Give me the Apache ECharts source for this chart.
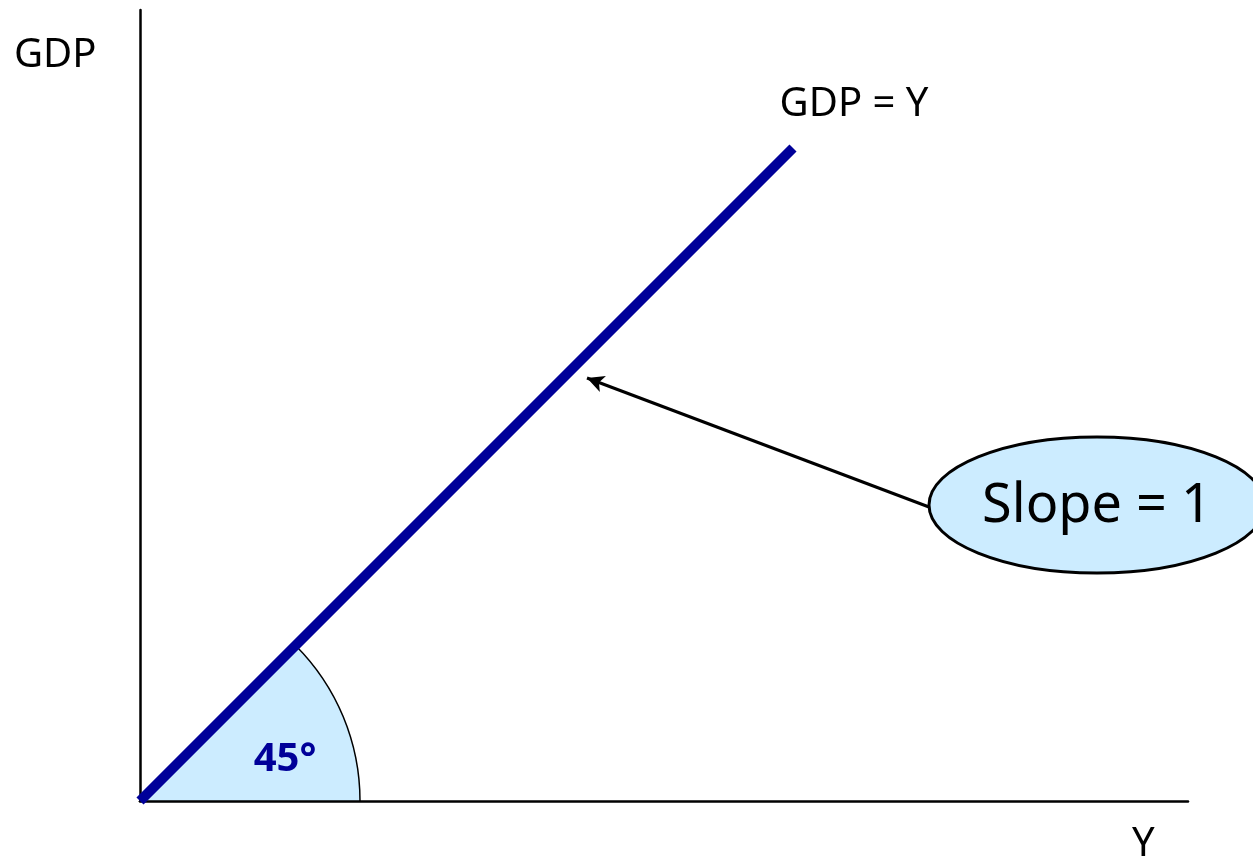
<!DOCTYPE html>
<html>
<head>
<meta charset="UTF-8">
<title>GDP = Y</title>
<style>
html,body{margin:0;padding:0;background:#fff;}
#chart{width:1253px;height:856px;}
</style>
</head>
<body>
<div id="chart"></div>
<script src="https://cdn.jsdelivr.net/npm/echarts@6/dist/echarts.min.js"></script>
<script>
// 45 degree line: GDP = Y
var lineX = [0, 65.3];
var lineY = [0, 65.3];

// angle wedge at origin (radius in data units, degrees)
var wedgeRadius = 22;
var wedgeAngle = 45;

// callout ellipse and arrow
var calloutCenter = [95.7, 29.6];
var calloutRadius = [16.8, 6.8];
var arrowFrom = [78.9, 29.4];
var arrowTo = [44.7, 42.3];

// text labels
var labelNames = ['GDP = Y', '45°', 'Slope = 1'];
var labelX = [71.4, 14.5, 95.7];
var labelY = [69.6, 4.1, 29.4];

var font = '"Noto Sans", "Open Sans", sans-serif';
var chart = echarts.init(document.getElementById('chart'));

var option = {
    animation: false,
    backgroundColor: '#fff',
    grid: {left: 140, right: 65, top: 10, bottom: 55},
    xAxis: {
        type: 'value', min: 0, max: 104.8,
        axisLine: {show: true, lineStyle: {color: '#000', width: 2.5}},
        axisTick: {show: false}, axisLabel: {show: false}, splitLine: {show: false}
    },
    yAxis: {
        type: 'value', min: 0, max: 79.1,
        axisLine: {show: true, lineStyle: {color: '#000', width: 2.5}},
        axisTick: {show: false}, axisLabel: {show: false}, splitLine: {show: false}
    },
    graphic: [
        {type: 'text', left: 14, top: 36, style: {text: 'GDP', font: '40px ' + font, fill: '#000'}},
        {type: 'text', left: 1132, top: 825, style: {text: 'Y', font: '40px ' + font, fill: '#000'}}
    ],
    series: [
        {
            // wedge marking the 45 degree angle
            type: 'custom',
            z: 1,
            data: [[0, 0]],
            renderItem: function (params, api) {
                var o = api.coord([api.value(0), api.value(1)]);
                var r = api.size([wedgeRadius, 0])[0];
                return {
                    type: 'sector',
                    shape: {cx: o[0], cy: o[1], r0: 0, r: r,
                        startAngle: -wedgeAngle * Math.PI / 180, endAngle: 0, clockwise: true},
                    style: {fill: '#CCECFF', stroke: '#000', lineWidth: 1.5}
                };
            }
        },
        {
            type: 'line',
            name: 'GDP = Y',
            z: 3,
            symbol: 'none',
            data: lineX.map(function (x, i) { return [x, lineY[i]]; }),
            lineStyle: {color: '#000099', width: 10, cap: 'butt'}
        },
        {
            // callout ellipse + arrow
            type: 'custom',
            z: 4,
            data: [calloutCenter],
            renderItem: function (params, api) {
                var c = api.coord([api.value(0), api.value(1)]);
                var s = api.size(calloutRadius);
                return {
                    type: 'ellipse',
                    shape: {cx: c[0], cy: c[1], rx: s[0], ry: s[1]},
                    style: {fill: '#CCECFF', stroke: '#000', lineWidth: 3}
                };
            },
            markLine: {
                silent: true,
                symbol: ['none', 'arrow'],
                symbolSize: [13, 17],
                label: {show: false},
                lineStyle: {color: '#000', width: 3, type: 'solid'},
                emphasis: {disabled: true},
                data: [[{coord: arrowFrom}, {coord: arrowTo}]]
            }
        },
        {
            type: 'scatter',
            z: 6,
            symbolSize: 0,
            itemStyle: {opacity: 1},
            data: labelNames.map(function (n, i) { return {name: n, value: [labelX[i], labelY[i]]}; }),
            label: {
                show: true,
                position: 'inside',
                formatter: '{b}',
                fontFamily: font,
                color: '#000',
                fontSize: 40
            },
            labelLayout: {hideOverlap: false},
            emphasis: {disabled: true}
        }
    ]
};

// per-label text styles
option.series[3].data[1].label = {fontWeight: 'bold', color: '#000099', fontSize: 40};
option.series[3].data[2].label = {fontSize: 54};

chart.setOption(option);
</script>
</body>
</html>
